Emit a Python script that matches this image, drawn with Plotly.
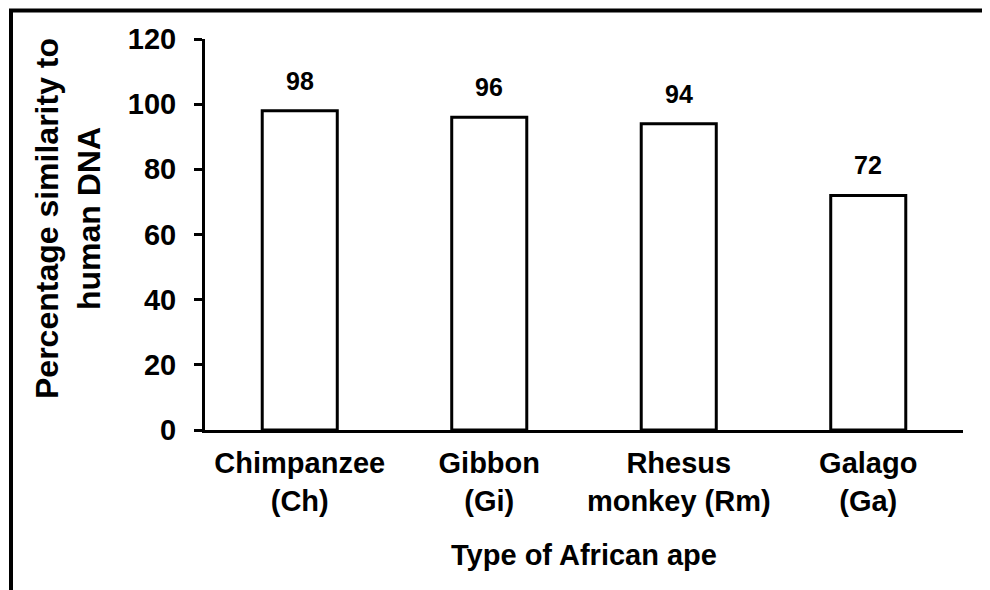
import plotly.graph_objects as go

categories = ["Chimpanzee<br>(Ch)", "Gibbon<br>(Gi)", "Rhesus<br>monkey (Rm)", "Galago<br>(Ga)"]
values = [98, 96, 94, 72]
y_ticks = [0, 20, 40, 60, 80, 100, 120]
x_title = "Type of African ape"
y_title = "Percentage similarity to<br>human DNA"

FONT = "Liberation Sans, Arial, sans-serif"
OFF = 8  # page body offset
W, H = 990, 590
# target screen positions of plot area
PL, PR, PT, PB = 205, 963, 39, 430
ML, MT = PL - OFF, PT - OFF
MR, MB = W - (PR - OFF), H - (PB - OFF)
pw, ph = PR - PL, PB - PT

def px_x(sx):
    return (sx - PL) / pw

def px_y(sy):
    return (PB - sy) / ph

fig = go.Figure()
fig.add_trace(go.Bar(
    x=categories, y=values,
    marker=dict(color="white", line=dict(color="black", width=3)),
    showlegend=False,
))

for c, v in zip(categories, values):
    fig.add_annotation(x=c, y=v, text=str(v), showarrow=False, yanchor="bottom",
                       yshift=14, font=dict(family=FONT, size=25, color="black", weight="bold"))

# y-axis title
fig.add_annotation(xref="paper", yref="paper", x=px_x(68), y=px_y(219),
                   text=y_title, textangle=-90, showarrow=False,
                   xanchor="center", yanchor="middle",
                   font=dict(family=FONT, size=32, color="black", weight="bold"))

# outer border
fig.add_shape(type="rect", xref="paper", yref="paper",
              x0=px_x(11), x1=px_x(1010),
              y0=px_y(620), y1=px_y(10.5),
              line=dict(color="black", width=4), fillcolor="rgba(0,0,0,0)", layer="below")

fig.update_layout(
    width=W, height=H,
    margin=dict(l=ML, r=MR, t=MT, b=MB),
    paper_bgcolor="white", plot_bgcolor="white",
    bargap=0.604,
    font=dict(family=FONT, color="black"),
    xaxis=dict(
        showline=True, linecolor="black", linewidth=3, ticks="", showgrid=False,
        ticklabelstandoff=5,
        tickfont=dict(family=FONT, size=29, color="black", weight="bold"),
        title=dict(text=x_title, font=dict(family=FONT, size=29, color="black", weight="bold"), standoff=30),
    ),
    yaxis=dict(
        range=[0, 120], tickvals=y_ticks, showline=True, linecolor="black", linewidth=3,
        ticks="outside", ticklen=8, tickwidth=3, tickcolor="black", showgrid=False, zeroline=False,
        ticklabelstandoff=12,
        tickfont=dict(family=FONT, size=29, color="black", weight="bold"),
    ),
)

fig.write_html("out.html")
